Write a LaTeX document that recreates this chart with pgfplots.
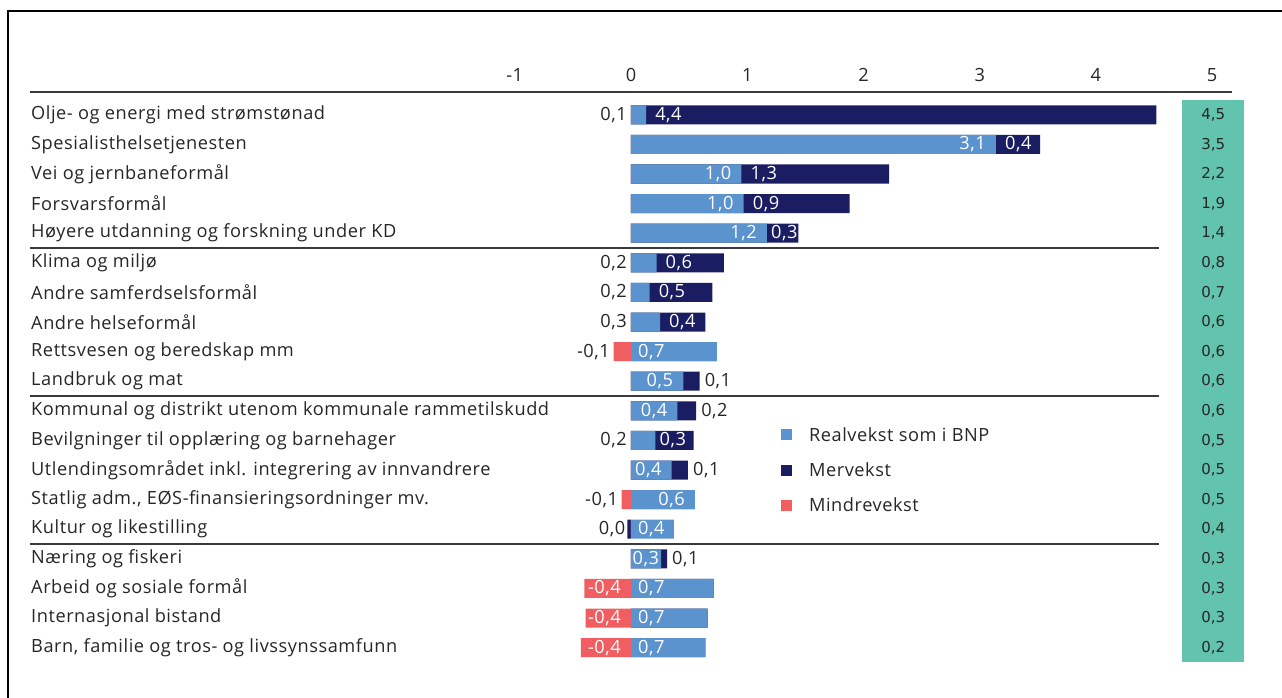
\documentclass[border=0pt]{standalone}
\usepackage{fontspec}
\setmainfont{Open Sans}[LetterSpace=3]
\newfontfamily\dejavu{DejaVu Sans}
\usepackage{pgfplots}
\usepackage{pgfplotstable}
\pgfplotsset{compat=1.18}
\definecolor{cblue}{HTML}{5B93CE}
\definecolor{cnavy}{HTML}{1B1D63}
\definecolor{cred}{HTML}{F05E62}
\definecolor{cgreen}{HTML}{62C4AE}
\definecolor{ctext}{HTML}{262626}
\definecolor{cline}{HTML}{3A3A3A}
\newcommand\lf{\fontsize{18.2}{22}\selectfont}
\newcommand\tf{\dejavu\fontsize{15}{18}\selectfont}

\pgfplotstableread{
row red blue navy bl bp nl np rl rp tot
1 0 0.13 4.39 0,1 0 4,4 0 x 0 4,5
2 0 3.14 0.38 3,1 1 0,4 0 x 0 3,5
3 0 0.95 1.27 1,0 1 1,3 0 x 0 2,2
4 0 0.97 0.91 1,0 1 0,9 0 x 0 1,9
5 0 1.17 0.27 1,2 1 0,3 3 x 0 1,4
6 0 0.22 0.58 0,2 0 0,6 0 x 0 0,8
7 0 0.16 0.54 0,2 0 0,5 0 x 0 0,7
8 0 0.25 0.39 0,3 0 0,4 0 x 0 0,6
9 -0.15 0.74 0 0,7 2 x 9 -0,1 1 0,6
10 0 0.45 0.14 0,5 1 0,1 1 x 0 0,6
11 0 0.40 0.16 0,4 1 0,2 1 x 0 0,6
12 0 0.21 0.33 0,2 0 0,3 3 x 0 0,5
13 0 0.35 0.14 0,4 1 0,1 1 x 0 0,5
14 -0.08 0.55 0 0,6 1 x 9 -0,1 1 0,5
15 0 0.37 -0.03 0,4 2 0,0 2 x 0 0,4
16 0 0.26 0.05 0,3 3 0,1 1 x 0 0,3
17 -0.40 0.71 0 0,7 2 x 9 -0,4 2 0,3
18 -0.39 0.66 0 0,7 2 x 9 -0,4 2 0,3
19 -0.43 0.64 0 0,7 2 x 9 -0,4 2 0,2
}\data

\pgfplotsset{
  barst/.style={xbar, bar width=19pt, bar shift=0pt, draw=none, forget plot},
  lab/.style={only marks, mark=none, forget plot, nodes near coords,
    point meta=explicit symbolic,
    every node near coord/.append style={inner sep=0pt, font=\lf}},
  labW/.style={lab, every node near coord/.append style={text=white}},
  labG/.style={lab, every node near coord/.append style={text=ctext}},
}

\begin{document}
\begin{tikzpicture}
\useasboundingbox (-30pt,-34pt) rectangle (1252pt,663pt);
\draw[line width=1.5pt] (-22pt,-40pt) -- (-22pt,652pt) -- (1260pt,652pt);
\begin{axis}[
  at={(0pt,0pt)}, anchor=south west,
  scale only axis, width=1202pt, height=571pt,
  xmin=-5.17, xmax=5.17, ymin=0.23, ymax=19.52, y dir=reverse,
  axis line style={draw=none}, major tick length=0pt,
  xtick={-1,0,...,5}, xticklabels={-1,0,1,2,3,4,5}, xticklabel pos=upper,
  xticklabel style={font=\lf, text=ctext, anchor=base, yshift=10.5pt},
  ytick={1,...,19},
  yticklabels={Olje- og energi med strømstønad, Spesialisthelsetjenesten, Vei og jernbaneformål, Forsvarsformål, Høyere utdanning og forskning under KD, Klima og miljø, Andre samferdselsformål, Andre helseformål, Rettsvesen og beredskap mm, Landbruk og mat, Kommunal og distrikt utenom kommunale rammetilskudd, Bevilgninger til opplæring og barnehager, Utlendingsområdet inkl. integrering av innvandrere, {Statlig adm., EØS-finansieringsordninger mv.}, Kultur og likestilling, Næring og fiskeri, Arbeid og sosiale formål, Internasjonal bistand, {Barn, familie og tros- og livssynssamfunn}},
  yticklabel style={anchor=west, inner xsep=0pt, font=\lf, text=ctext, xshift=1pt},
  clip=false,
  legend style={at={(axis cs:1.29,11.48)}, anchor=north west, draw=none, fill=none,
    font=\lf, text=ctext, row sep=16pt, inner sep=0pt, cells={anchor=west},
    /tikz/every odd column/.append style={column sep=15pt}},
  legend image code/.code={\fill[#1, draw=none] (0pt,-5.5pt) rectangle (11pt,5.5pt);},
]
% green total column (background)
\fill[cgreen] (axis cs:4.744,0.5) rectangle (axis cs:5.277,19.5);
% lines
\draw[line width=1.4pt, cline] (axis cs:-5.17,0.23) -- (axis cs:5.17,0.23);
\draw[line width=1.4pt, cline] (axis cs:-5.17,5.5) -- (axis cs:4.546,5.5);
\draw[line width=1.4pt, cline] (axis cs:-5.17,10.5) -- (axis cs:4.546,10.5);
\draw[line width=1.4pt, cline] (axis cs:-5.17,15.5) -- (axis cs:4.546,15.5);
\addlegendimage{fill=cblue}
\addlegendimage{fill=cnavy}
\addlegendimage{fill=cred}
% bars
\addplot[barst, fill=cnavy] table[x expr={\thisrow{navy}<0 ? \thisrow{navy} : \thisrow{blue}+\thisrow{navy}}, y=row]{\data};
\addplot[barst, fill=cblue] table[x=blue, y=row]{\data};
\addplot[barst, fill=cred] table[x=red, y=row]{\data};
% blue labels
\addplot[labG, restrict expr to domain={\thisrow{bp}}{0:0}, every node near coord/.append style={anchor=east, xshift=-4pt}] table[x expr=0, y=row, meta=bl]{\data};
\addplot[labW, restrict expr to domain={\thisrow{bp}}{1:1}, every node near coord/.append style={anchor=east, xshift=-10pt}] table[x=blue, y=row, meta=bl]{\data};
\addplot[labW, restrict expr to domain={\thisrow{bp}}{2:2}, every node near coord/.append style={anchor=west, xshift=7pt}] table[x expr=0, y=row, meta=bl]{\data};
\addplot[labW, restrict expr to domain={\thisrow{bp}}{3:3}, every node near coord/.append style={anchor=west, xshift=1.5pt}] table[x expr=0, y=row, meta=bl]{\data};
% navy labels
\addplot[labW, restrict expr to domain={\thisrow{np}}{0:0}, every node near coord/.append style={anchor=west, xshift=9pt}] table[x=blue, y=row, meta=nl]{\data};
\addplot[labW, restrict expr to domain={\thisrow{np}}{3:3}, every node near coord/.append style={anchor=west, xshift=4pt}] table[x=blue, y=row, meta=nl]{\data};
\addplot[labG, restrict expr to domain={\thisrow{np}}{1:1}, every node near coord/.append style={anchor=west, xshift=5pt}] table[x expr=\thisrow{blue}+\thisrow{navy}, y=row, meta=nl]{\data};
\addplot[labG, restrict expr to domain={\thisrow{np}}{2:2}, every node near coord/.append style={anchor=east, xshift=-2pt}] table[x=navy, y=row, meta=nl]{\data};
% red labels
\addplot[labG, restrict expr to domain={\thisrow{rp}}{1:1}, every node near coord/.append style={anchor=east, xshift=-3.5pt}] table[x=red, y=row, meta=rl]{\data};
\addplot[labW, restrict expr to domain={\thisrow{rp}}{2:2}, every node near coord/.append style={anchor=east, xshift=-10pt}] table[x expr=0, y=row, meta=rl]{\data};
% totals
\addplot[lab, every node near coord/.append style={anchor=center, font=\tf, text=ctext}] table[x expr=5.01, y=row, meta=tot]{\data};
\legend{Realvekst som i BNP, Mervekst, Mindrevekst}
\end{axis}
\end{tikzpicture}
\end{document}
